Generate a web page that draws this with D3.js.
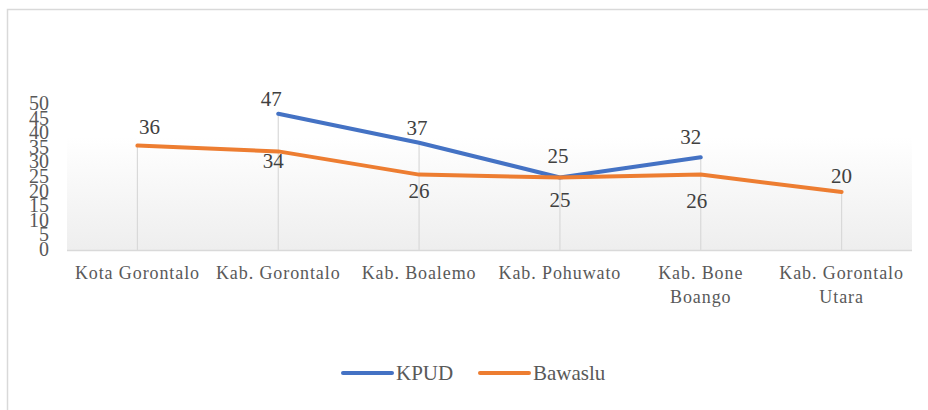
<!DOCTYPE html>
<html>
<head>
<meta charset="utf-8">
<script src="https://cdn.jsdelivr.net/npm/d3@7"></script>
<style>
  body { margin: 0; background: #fff; }
</style>
</head>
<body>
<div id="chart"></div>
<script>
// data
var categories = ["Kota Gorontalo", "Kab. Gorontalo", "Kab. Boalemo", "Kab. Pohuwato", "Kab. Bone Boango", "Kab. Gorontalo Utara"];
var kpud = [null, 47, 37, 25, 32, null];
var bawaslu = [36, 34, 26, 25, 26, 20];
var yTicks = [0, 5, 10, 15, 20, 25, 30, 35, 40, 45, 50];
var seriesNames = ["KPUD", "Bawaslu"];
var seriesColors = ["#4472C4", "#ED7D31"];

var width = 928, height = 410;
var plot = {left: 67, right: 912, top: 137, bottom: 250};
var serif = "Liberation Serif";

var svg = d3.select("#chart").append("svg")
    .attr("width", width)
    .attr("height", height);

// chart border (only top/left show in the crop)
svg.append("rect")
    .attr("x", 7.5).attr("y", 9.5)
    .attr("width", 940).attr("height", 420)
    .attr("fill", "none")
    .attr("stroke", "#d9d9d9")
    .attr("stroke-width", 1.5);

// plot area gradient
var grad = svg.append("defs").append("linearGradient")
    .attr("id", "bg").attr("x1", 0).attr("y1", 0).attr("x2", 0).attr("y2", 1);
grad.append("stop").attr("offset", "0%").attr("stop-color", "#ffffff");
grad.append("stop").attr("offset", "100%").attr("stop-color", "#eeeeee");

svg.append("rect")
    .attr("x", plot.left).attr("y", plot.top)
    .attr("width", plot.right - plot.left)
    .attr("height", plot.bottom - plot.top)
    .attr("fill", "url(#bg)");

var x = d3.scaleBand()
    .domain(categories)
    .range([plot.left, plot.right]);

var y = d3.scaleLinear()
    .domain([0, 50])
    .range([plot.bottom, 105]);

var cx = function(c){ return x(c) + x.bandwidth() / 2; };

// y axis labels (squeezed together like the original)
var yLab = d3.scaleLinear().domain([0, 50]).range([249, 103]);
svg.append("g").selectAll("text")
    .data(yTicks)
    .enter().append("text")
    .attr("x", 49)
    .attr("y", function(d){ return yLab(d); })
    .attr("dy", "0.35em")
    .attr("text-anchor", "end")
    .attr("fill", "#595959")
    .attr("font-family", serif)
    .attr("font-size", 20)
    .text(function(d){ return d; });

// drop lines from highest point to baseline
svg.append("g").selectAll("line")
    .data(categories)
    .enter().append("line")
    .attr("x1", cx).attr("x2", cx)
    .attr("y1", function(c, i){ return y(d3.max([kpud[i], bawaslu[i]])); })
    .attr("y2", plot.bottom)
    .attr("stroke", "#d9d9d9")
    .attr("stroke-width", 1.2);

// baseline
svg.append("line")
    .attr("x1", plot.left).attr("x2", plot.right)
    .attr("y1", plot.bottom + 0.5).attr("y2", plot.bottom + 0.5)
    .attr("stroke", "#d9d9d9")
    .attr("stroke-width", 1.5);

// x axis labels, wrapped like the original
var xLines = {
  "Kab. Bone Boango": ["Kab. Bone", "Boango"],
  "Kab. Gorontalo Utara": ["Kab. Gorontalo", "Utara"]
};
var xl = svg.append("g").selectAll("text")
    .data(categories)
    .enter().append("text")
    .attr("x", cx)
    .attr("y", 279)
    .attr("text-anchor", "middle")
    .attr("fill", "#595959")
    .attr("font-family", serif)
    .attr("font-size", 18)
    .attr("letter-spacing", 0.9);
xl.each(function(c){
  var parts = xLines[c] || [c];
  var t = d3.select(this);
  parts.forEach(function(p, j){
    t.append("tspan").attr("x", cx(c)).attr("dy", j ? 24 : 0).text(p);
  });
});

// lines
var line = d3.line()
    .defined(function(d){ return d.v != null; })
    .x(function(d){ return cx(d.c); })
    .y(function(d){ return y(d.v); });

var series = [kpud, bawaslu];
series.forEach(function(vals, s){
  var pts = categories.map(function(c, i){ return {c: c, v: vals[i]}; });
  svg.append("path")
      .datum(pts)
      .attr("d", line)
      .attr("fill", "none")
      .attr("stroke", seriesColors[s])
      .attr("stroke-width", 4)
      .attr("stroke-linecap", "round")
      .attr("stroke-linejoin", "round");
});

// data labels
var kpudOff = [0, [-7, -15], [-2, -15], [-2, -22], [-10, -21], 0];
var bawOff = [[12, -19], [-5, 9], [0, 16], [0, 22], [-4, 26], [0, -16]];
function labels(vals, offs){
  svg.append("g").selectAll("text")
    .data(categories.filter(function(c, i){ return vals[i] != null; }))
    .enter().append("text")
    .attr("x", function(c){ var i = categories.indexOf(c); return cx(c) + offs[i][0]; })
    .attr("y", function(c){ var i = categories.indexOf(c); return y(vals[i]) + offs[i][1]; })
    .attr("dy", "0.35em")
    .attr("text-anchor", "middle")
    .attr("fill", "#404040")
    .attr("font-family", serif)
    .attr("font-size", 21)
    .text(function(c){ return vals[categories.indexOf(c)]; });
}
labels(kpud, kpudOff);
labels(bawaslu, bawOff);

// legend
var legX = [343, 480];
seriesNames.forEach(function(n, s){
  svg.append("line")
      .attr("x1", legX[s]).attr("x2", legX[s] + 49)
      .attr("y1", 373).attr("y2", 373)
      .attr("stroke", seriesColors[s])
      .attr("stroke-width", 4)
      .attr("stroke-linecap", "round");
  svg.append("text")
      .attr("x", legX[s] + 53)
      .attr("y", 373)
      .attr("dy", "0.35em")
      .attr("fill", "#595959")
      .attr("font-family", serif)
      .attr("font-size", 21)
      .text(n);
});
</script>
</body>
</html>
